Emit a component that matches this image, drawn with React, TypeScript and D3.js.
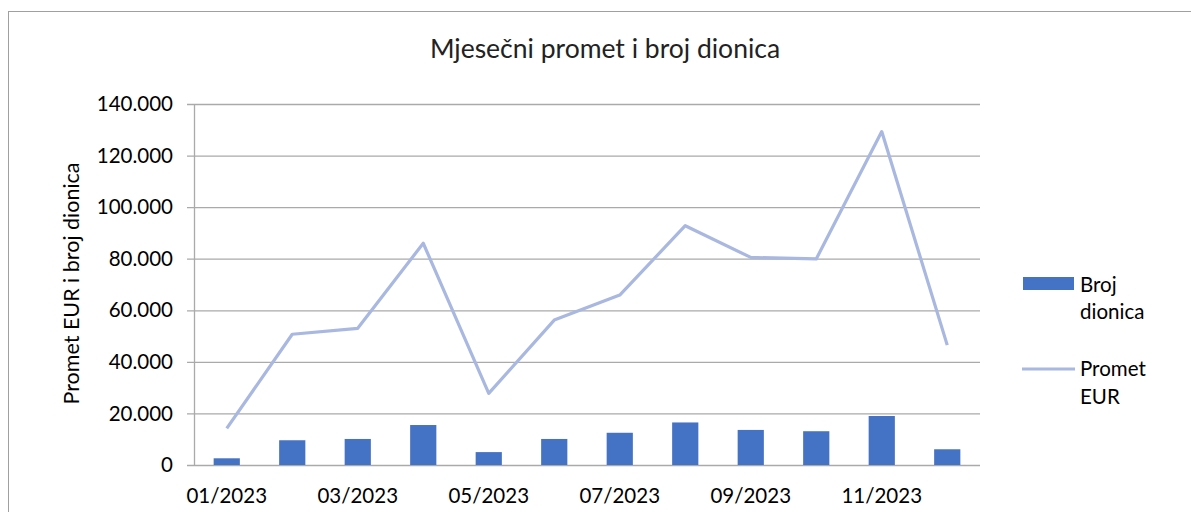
import { useEffect, useRef } from "react";
import * as d3 from "d3";

const months = ["01/2023", "02/2023", "03/2023", "04/2023", "05/2023", "06/2023", "07/2023", "08/2023", "09/2023", "10/2023", "11/2023", "12/2023"];
const brojDionica = [2600, 9600, 10100, 15500, 5000, 10100, 12500, 16500, 13600, 13100, 19000, 6100];
const prometEur = [14200, 50700, 53000, 86000, 27800, 56200, 65900, 92800, 80500, 79900, 129300, 46500];
const yTicks = [0, 20000, 40000, 60000, 80000, 100000, 120000, 140000];

const FONT = "Lato, 'Liberation Sans', sans-serif";

function App() {
  const svgRef = useRef<SVGSVGElement | null>(null);

  useEffect(() => {
    if (!svgRef.current) return;
    const width = 1191;
    const height = 512;
    const margin = { top: 104, right: 211, bottom: 47, left: 194 };

    const svg = d3.select(svgRef.current).attr("width", width).attr("height", height);
    svg.selectAll("*").remove();

    // chart frame
    svg.append("rect")
      .attr("x", 8.5).attr("y", 11.5)
      .attr("width", width + 20).attr("height", height + 20)
      .attr("fill", "#fff").attr("stroke", "#a0a0a0").attr("stroke-width", 1);

    const x = d3.scaleBand().domain(months).range([margin.left, width - margin.right]);
    const y = d3.scaleLinear().domain([0, 140000]).range([height - margin.bottom, margin.top]);

    // gridlines
    svg.append("g")
      .selectAll("line")
      .data(yTicks)
      .enter()
      .append("line")
      .attr("x1", margin.left - 7)
      .attr("x2", width - margin.right)
      .attr("y1", (d) => y(d) + 0.5)
      .attr("y2", (d) => y(d) + 0.5)
      .attr("stroke", "#aaaaaa")
      .attr("stroke-width", 1.3);

    // y axis line
    svg.append("line")
      .attr("x1", margin.left + 0.5).attr("x2", margin.left + 0.5)
      .attr("y1", y(140000)).attr("y2", y(0))
      .attr("stroke", "#aaaaaa").attr("stroke-width", 1.3);

    // y tick labels
    svg.append("g")
      .selectAll("text")
      .data(yTicks)
      .enter()
      .append("text")
      .attr("x", margin.left - 21)
      .attr("y", (d) => y(d))
      .attr("dy", "0.35em")
      .attr("text-anchor", "end")
      .style("font-family", FONT)
      .style("font-size", "20.5px")
      .attr("fill", "#000")
      .text((d) => (d === 0 ? "0" : d3.format(",")(d).replace(/,/g, ".")));

    // bars
    const barW = x.bandwidth() * 0.4;
    svg.append("g")
      .selectAll("rect")
      .data(brojDionica)
      .enter()
      .append("rect")
      .attr("x", (_, i) => x(months[i])! + (x.bandwidth() - barW) / 2)
      .attr("y", (d) => y(d))
      .attr("width", barW)
      .attr("height", (d) => y(0) - y(d))
      .attr("fill", "#4472c4");

    // line
    const line = d3.line<number>()
      .x((_, i) => x(months[i])! + x.bandwidth() / 2)
      .y((d) => y(d));
    svg.append("path")
      .datum(prometEur)
      .attr("d", line)
      .attr("fill", "none")
      .attr("stroke", "#a9b8e0")
      .attr("stroke-width", 3.2)
      .attr("stroke-linejoin", "round");

    // x labels (every other month)
    svg.append("g")
      .selectAll("text")
      .data(months.filter((_, i) => i % 2 === 0))
      .enter()
      .append("text")
      .attr("x", (d) => x(d)! + x.bandwidth() / 2)
      .attr("y", y(0) + 38)
      .attr("text-anchor", "middle")
      .style("font-family", FONT)
      .style("font-size", "20.5px")
      .text((d) => d);

    // title
    svg.append("text")
      .attr("x", 605).attr("y", 58)
      .attr("text-anchor", "middle")
      .style("font-family", FONT)
      .style("font-size", "26.5px")
      .attr("fill", "#222")
      .text("Mjesečni promet i broj dionica");

    // y axis title
    svg.append("text")
      .attr("transform", `translate(79,${(y(0) + y(140000)) / 2 - 1}) rotate(-90)`)
      .attr("text-anchor", "middle")
      .style("font-family", FONT)
      .style("font-size", "21.5px")
      .text("Promet EUR i broj dionica");

    // legend
    const lg = svg.append("g");
    lg.append("rect")
      .attr("x", 1023).attr("y", 277).attr("width", 51).attr("height", 13)
      .attr("fill", "#4472c4");
    lg.append("text").attr("x", 1080).attr("y", 292)
      .style("font-family", FONT).style("font-size", "20.5px").text("Broj");
    lg.append("text").attr("x", 1080).attr("y", 319)
      .style("font-family", FONT).style("font-size", "20.5px").text("dionica");
    lg.append("line")
      .attr("x1", 1022).attr("x2", 1075).attr("y1", 369).attr("y2", 369)
      .attr("stroke", "#a9b8e0").attr("stroke-width", 3.2);
    lg.append("text").attr("x", 1080).attr("y", 376)
      .style("font-family", FONT).style("font-size", "20.5px").text("Promet");
    lg.append("text").attr("x", 1080).attr("y", 404)
      .style("font-family", FONT).style("font-size", "20.5px").text("EUR");

    return () => {
      d3.select(svgRef.current).selectAll("*").remove();
    };
  }, []);

  return <svg ref={svgRef} style={{ position: "absolute", left: 0, top: 0 }}></svg>;
}

export default App;
